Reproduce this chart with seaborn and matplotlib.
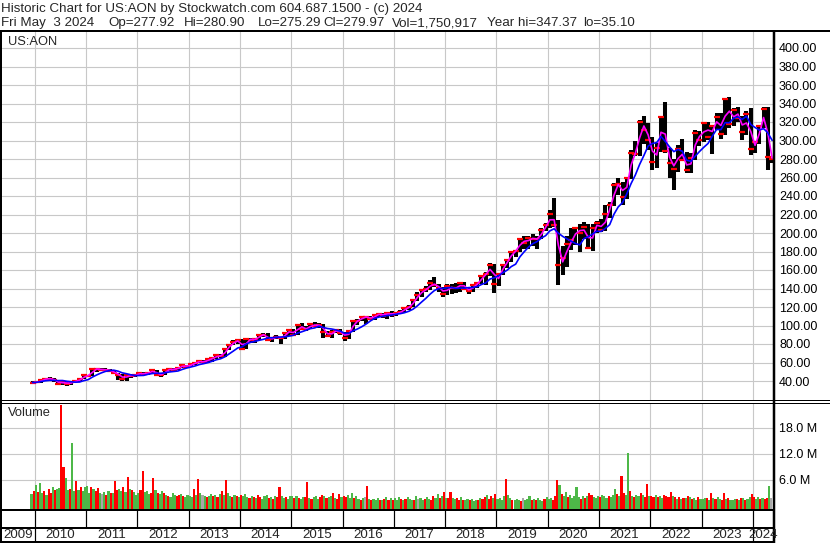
import matplotlib
matplotlib.use("Agg")
import matplotlib.pyplot as plt
from matplotlib.lines import Line2D
import seaborn as sns
import pandas as pd
import numpy as np

# monthly price bars, Dec 2009 .. May 2024
high = ([39.7] +
        [39.8, 41.3, 43.0, 44.5, 43.0, 41.5, 39.6, 39.8, 39.4, 40.6, 42.5, 46.3] +
        [46.6, 53.7, 53.6, 53.9, 53.6, 52.5, 52.1, 49.0, 48.0, 47.2, 47.5, 47.3] +
        [48.9, 49.6, 49.4, 53.0, 51.6, 47.5, 52.0, 53.5, 54.0, 55.2, 57.3, 57.5] +
        [58.4, 60.3, 61.9, 62.5, 64.6, 65.9, 69.2, 69.5, 75.3, 80.1, 84.0, 84.5] +
        [85.0, 86.6, 87.0, 86.0, 90.5, 91.5, 91.5, 87.2, 89.3, 87.6, 92.3, 96.0] +
        [96.5, 101.4, 102.6, 99.0, 102.5, 103.8, 103.0, 102.0, 94.5, 95.5, 96.5, 95.8] +
        [92.5, 94.5, 104.6, 106.5, 109.5, 110.0, 110.5, 111.6, 113.0, 113.3, 114.5, 115.5] +
        [115.0, 117.0, 119.5, 122.5, 128.5, 136.0, 139.0, 143.0, 149.0, 152.0, 144.5, 142.0] +
        [144.5, 145.0, 145.5, 147.0, 147.5, 141.0, 144.5, 147.0, 155.0, 157.5, 167.5, 166.0] +
        [157.0, 166.0, 172.0, 181.0, 182.0, 194.0, 197.0, 197.0, 198.5, 197.0, 205.0, 210.5] +
        [225.0, 238.2, 214.0, 185.5, 197.0, 205.0, 206.5, 209.5, 212.0, 210.0, 210.0, 213.5] +
        [215.0, 230.0, 233.0, 254.5, 260.0, 255.5, 260.0, 290.0, 300.0, 322.0, 326.0, 319.0] +
        [304.0, 297.0, 326.0, 341.9, 292.0, 280.0, 295.0, 302.0, 288.0, 286.0, 311.0, 310.0] +
        [320.5, 320.0, 316.0, 330.0, 330.0, 346.0, 347.4, 335.0, 336.0, 326.0, 332.0, 335.0] +
        [300.0, 317.0, 336.0, 336.0, 281.0])
low = ([37.5] +
       [37.6, 38.3, 40.6, 41.4, 38.5, 37.0, 35.5, 35.1, 36.2, 38.4, 39.4, 41.7] +
       [44.2, 45.3, 50.2, 51.0, 51.0, 49.5, 47.7, 41.0, 40.5, 40.2, 43.0, 44.5] +
       [46.4, 46.3, 46.5, 48.8, 46.0, 44.7, 46.3, 50.8, 51.5, 51.8, 54.0, 54.5] +
       [55.9, 57.5, 59.5, 58.3, 60.0, 61.0, 64.0, 65.2, 66.0, 73.0, 78.5, 79.5] +
       [74.5, 74.9, 81.5, 81.0, 84.5, 88.0, 83.8, 82.5, 85.5, 80.5, 85.5, 89.0] +
       [88.5, 89.5, 95.2, 94.0, 96.5, 98.0, 97.5, 86.0, 87.5, 87.0, 91.5, 90.0] +
       [82.9, 85.5, 93.5, 100.5, 104.5, 101.5, 106.0, 106.0, 109.0, 108.0, 106.5, 109.5] +
       [110.5, 112.0, 114.0, 116.5, 119.5, 126.5, 130.5, 136.5, 138.5, 142.0, 136.0, 131.0] +
       [133.0, 134.0, 135.5, 136.0, 138.0, 134.5, 136.0, 140.5, 145.0, 144.0, 154.0, 134.8] +
       [142.5, 155.0, 162.5, 168.5, 174.5, 179.5, 183.0, 182.5, 186.0, 183.0, 193.0, 202.0] +
       [205.0, 207.0, 143.9, 155.0, 163.0, 182.0, 187.0, 180.0, 193.0, 182.5, 181.0, 199.5] +
       [201.0, 202.5, 216.0, 229.0, 241.0, 230.5, 237.0, 258.0, 283.0, 283.0, 296.0, 290.0] +
       [268.0, 270.0, 288.0, 286.0, 260.0, 246.2, 265.5, 278.0, 265.0, 264.5, 279.0, 294.5] +
       [298.0, 300.5, 285.0, 311.0, 302.0, 306.0, 313.0, 316.0, 320.0, 301.0, 306.0, 284.8] +
       [287.0, 296.0, 314.0, 268.1, 275.3])
close = ([38.3] +
         [38.9, 41.0, 42.7, 42.5, 40.6, 37.1, 39.2, 36.4, 39.1, 39.8, 41.9, 46.0] +
         [45.6, 53.0, 53.0, 52.2, 52.1, 51.3, 48.5, 46.6, 42.0, 46.6, 45.0, 46.8] +
         [48.5, 47.5, 49.1, 51.5, 46.7, 46.8, 51.5, 53.0, 52.3, 54.5, 57.0, 55.6] +
         [58.0, 60.0, 61.5, 60.3, 63.7, 64.4, 67.9, 66.5, 74.4, 79.0, 82.7, 83.9] +
         [75.0, 85.7, 84.5, 84.9, 90.0, 90.1, 84.5, 86.6, 87.7, 86.0, 91.5, 94.8] +
         [90.0, 101.0, 96.1, 96.5, 101.3, 99.7, 100.7, 93.5, 88.6, 93.3, 94.8, 92.2] +
         [87.0, 94.0, 104.4, 105.1, 109.3, 109.2, 107.1, 111.4, 112.5, 110.8, 114.0, 111.5] +
         [113.0, 115.0, 118.7, 120.0, 127.5, 133.0, 138.0, 139.0, 146.0, 143.4, 140.6, 134.0] +
         [142.2, 140.2, 140.3, 145.8, 140.0, 137.2, 143.5, 145.6, 153.8, 156.1, 165.3, 145.4] +
         [156.2, 165.0, 170.7, 180.0, 180.6, 193.0, 189.0, 194.7, 193.6, 193.2, 203.6, 208.3] +
         [220.2, 208.5, 165.0, 172.6, 187.6, 192.6, 205.2, 200.0, 206.3, 184.0, 205.3, 211.3] +
         [203.0, 220.3, 230.1, 251.5, 253.3, 238.8, 259.9, 286.8, 285.8, 320.0, 311.4, 300.6] +
         [276.4, 292.2, 325.6, 288.3, 275.5, 269.7, 291.1, 279.3, 267.9, 281.5, 308.5, 300.1] +
         [318.4, 304.1, 315.3, 325.2, 307.3, 345.2, 318.2, 332.9, 324.2, 309.4, 328.5, 291.0] +
         [298.6, 316.0, 333.7, 281.8, 280.0])

# half-month volume (millions), Dec 2009 .. early May 2024
volume = ([2.8, 3.5] +
          [4.8, 3.2, 5.3, 2.9, 3.4, 2.6, 4.0, 3.0, 4.4, 3.8, 3.9, 4.2, 23.3, 9.0, 6.5, 3.8, 4.0, 14.6, 3.5, 5.8, 3.6, 4.4, 3.4, 4.5] +
          [4.6, 3.0, 4.5, 4.0, 3.5, 4.2, 3.0, 2.8, 3.2, 2.6, 3.4, 2.9, 3.0, 5.8, 3.6, 4.0, 3.5, 4.5, 3.3, 6.6, 4.0, 3.6, 3.2, 2.6] +
          [3.0, 3.8, 8.1, 3.2, 3.5, 2.7, 3.0, 6.5, 3.6, 3.0, 2.8, 3.4, 2.9, 2.5, 2.4, 2.0, 3.0, 2.6, 2.3, 2.5, 2.8, 2.2, 2.0, 2.6] +
          [2.4, 2.0, 3.9, 2.5, 6.3, 3.0, 2.6, 2.2, 2.0, 2.4, 2.8, 2.2, 2.5, 2.0, 2.7, 3.4, 2.5, 6.0, 3.0, 2.4, 2.0, 2.6, 2.2, 2.0] +
          [2.6, 2.3, 2.8, 2.0, 1.8, 2.4, 2.0, 1.9, 2.5, 2.0, 1.7, 2.2, 2.6, 1.9, 2.0, 1.7, 2.3, 2.0, 4.5, 2.4, 1.9, 2.1, 1.6, 2.2] +
          [2.2, 1.8, 2.4, 1.9, 1.6, 2.0, 2.1, 5.5, 1.8, 1.6, 2.0, 2.3, 1.7, 2.0, 2.6, 2.2, 1.8, 2.0, 2.4, 2.9, 1.9, 1.6, 2.8, 2.0] +
          [2.4, 2.0, 2.5, 1.8, 3.0, 1.9, 2.2, 1.6, 1.5, 1.8, 2.0, 4.6, 1.7, 1.4, 1.6, 1.3, 1.9, 1.5, 1.3, 1.7, 2.0, 1.5, 1.8, 1.4] +
          [1.8, 1.5, 2.1, 1.6, 1.4, 1.7, 2.0, 1.6, 1.5, 1.3, 2.2, 1.6, 1.9, 1.4, 1.6, 2.0, 1.7, 1.5, 2.3, 1.8, 2.7, 1.9, 2.4, 3.2] +
          [1.8, 1.9, 3.3, 1.9, 1.6, 1.8, 1.5, 2.0, 1.4, 1.3, 1.7, 1.4, 1.6, 1.2, 1.3, 1.5, 1.8, 1.6, 2.0, 2.6, 1.7, 2.4, 1.9, 2.8] +
          [1.6, 1.9, 1.5, 2.2, 6.3, 2.6, 1.8, 1.4, 1.3, 1.6, 1.5, 1.2, 1.8, 1.4, 1.7, 2.2, 1.4, 1.6, 1.3, 1.9, 1.5, 1.2, 1.7, 2.0] +
          [1.6, 1.8, 1.5, 2.4, 5.9, 4.8, 2.8, 2.3, 3.2, 2.0, 2.5, 1.8, 2.2, 4.5, 2.0, 1.7, 2.4, 1.9, 2.2, 2.9, 2.5, 2.0, 1.9, 2.3] +
          [2.0, 2.6, 2.4, 1.9, 2.2, 2.0, 2.5, 3.9, 2.8, 2.3, 7.0, 3.0, 2.6, 12.3, 3.5, 2.4, 2.0, 2.6, 2.3, 2.9, 2.5, 2.1, 5.0, 2.2] +
          [2.4, 2.1, 2.6, 2.0, 2.2, 1.8, 2.5, 2.3, 2.0, 3.3, 2.4, 2.0, 1.7, 2.1, 1.6, 1.9, 1.8, 2.2, 2.0, 1.6, 1.8, 1.5, 2.0, 1.7] +
          [1.6, 1.8, 1.9, 1.5, 3.0, 1.8, 1.6, 2.0, 1.7, 1.5, 3.0, 1.6, 1.8, 1.5, 1.4, 1.7, 1.6, 1.3, 1.8, 1.9, 1.5, 1.7, 2.0, 2.8] +
          [2.0, 1.7, 2.1, 1.6, 1.9, 1.7, 1.8, 4.7, 1.75])
# r = down, g = up, n = unchanged
volume_dir = ("gr" +
              "grggrgrrgrggrrggrggrgrgg" +
              "ggrgrrgngrgrgrrggrgrgrgg" +
              "grrgggrrgrggrgrgggrrgrgg" +
              "ggrgrgngrggrgrgrgrggrgrg" +
              "rgggrgrgrrgggrgrgrrggrgg" +
              "grgrggrrgrgggrrgrggrgrrg" +
              "rrgggrggrgnrgrgggrgrgrgr" +
              "gggrgrgggrgnggrggrrggrgr" +
              "grrggrrgrggrgggrgrrgrrgr" +
              "ggggrggrgggrngggrgrgggrg" +
              "ggrrrgrggrgggggrgrgrrggg" +
              "rgggrgggrgrrggrgrggrgrrg" +
              "rrgrggrrrrgrgrgrgrgrggrg" +
              "ggrgrgrggrrgrgggrgrgrggr" +
              "rggrgrrgn")

price_ticks = list(range(40, 401, 20))
volume_ticks = [6, 12, 18]
years = list(range(2009, 2025))
header_1 = "Historic Chart for US:AON by Stockwatch.com 604.687.1500 - (c) 2024"
header_2 = ["Fri May  3 2024", "Op=277.92", "Hi=280.90", "Lo=275.29", "Cl=279.97",
            "Vol=1,750,917", "Year hi=347.37", "lo=35.10"]

sns.set_style("white")
plt.rcParams["font.family"] = ["Liberation Sans", "DejaVu Sans"]

W, H = 830, 543
fig = plt.figure(figsize=(W / 100, H / 100), dpi=100)
fx = lambda px: px / W
fy = lambda py: 1 - py / H

X0, X1 = 2, 773.5            # plot area in pixels
Y2010, PX_YEAR = 34.7, 51.3  # pixel of 1 Jan 2010, pixels per year
xlim = (2010 - (Y2010 - X0) / PX_YEAR, 2010 + (X1 - Y2010) / PX_YEAR)

# price panel
P_TOP, P_BOT = 31, 400.3
ax_p = fig.add_axes([fx(X0), fy(P_BOT), fx(X1 - X0), (P_BOT - P_TOP) / H])
V_TOP, V_BOT = 402.7, 509.5
ax_v = fig.add_axes([fx(X0), fy(V_BOT), fx(X1 - X0), (V_BOT - V_TOP) / H])

n = len(close)
df = pd.DataFrame({"t": 2009 + 11 / 12 + (np.arange(n) + 0.5) / 12,
                   "high": high, "low": low, "close": close})
df["ma_fast"] = df["close"].rolling(2, min_periods=1).mean()
df["ma_slow"] = df["close"].rolling(6, min_periods=1).mean()

ax_p.vlines(df["t"], df["low"], df["high"], color="black", lw=2.9, zorder=2)
ax_p.plot(df["t"], df["close"], ls="none", marker="_", ms=4, mew=1.6, color="red", zorder=3)
sns.lineplot(data=df, x="t", y="ma_fast", color="#FF00FF", lw=1.2, ax=ax_p, zorder=4)
sns.lineplot(data=df, x="t", y="ma_slow", color="#0000FF", lw=1.2, ax=ax_p, zorder=5)

ppu = 333 / 360  # pixels per dollar
ax_p.set_ylim(40 - (P_BOT - 381) / ppu, 400 + (48 - P_TOP) / ppu)
ax_p.set_yticks(price_ticks)
ax_p.set_yticklabels([f"{v:.2f}" for v in price_ticks])

# volume panel
vol = pd.DataFrame({"t": 2009 + 11 / 12 + (np.arange(len(volume)) + 0.5) / 24,
                    "v": volume, "d": list(volume_dir)})
pal = {"r": "#FF0000", "g": "#4DB848", "n": "#A8A8A8"}
vpm = 26 / 6  # pixels per million
v_lo = -(V_BOT - 506) / vpm
v_hi = (506 - V_TOP) / vpm
ax_v.bar(vol["t"], vol["v"] - v_lo, bottom=v_lo, width=1 / 24,
         color=[pal[c] for c in vol["d"]], linewidth=0, zorder=2)
ax_v.set_ylim(v_lo, v_hi)
ax_v.set_yticks(volume_ticks)
ax_v.set_yticklabels([f"{v:.1f} M" for v in volume_ticks])

for ax in (ax_p, ax_v):
    ax.set_xlim(*xlim)
    ax.set_xticks(years[1:])
    ax.grid(True, color="#C8C8C8", lw=0.8, zorder=0)
    ax.set_axisbelow(True)
    ax.set_xlabel("")
    ax.set_ylabel("")
    ax.yaxis.tick_right()
    ax.tick_params(axis="x", length=0, labelbottom=False)
    ax.tick_params(axis="y", length=0, pad=4, labelsize=9, labelcolor="black")
    for s in ax.spines.values():
        s.set_visible(False)

fig.text(fx(8), fy(42), "US:AON", fontsize=9.3, va="center")
fig.text(fx(8), fy(413), "Volume", fontsize=9.3, va="center")

# header
fig.text(fx(1), fy(9.3), header_1, fontsize=9.6, va="center")
for s, px in zip(header_2, [1, 108, 184, 258, 323, 392, 487, 583]):
    fig.text(fx(px), fy(23.3), s, fontsize=9.6, va="center")


def line(x0, y0, x1, y1, lw):
    fig.add_artist(Line2D([fx(x0), fx(x1)], [fy(y0), fy(y1)], color="black",
                          lw=lw * 0.72, solid_capstyle="butt"))


line(0, 31, W, 31, 2)
line(0, 400.3, W, 400.3, 1)
line(0, 402.7, W, 402.7, 1)
line(0, 510, X1, 510, 2)
line(0, 527.5, X1, 527.5, 2)
line(0, 542, X1, 542, 2)
line(1, 30, 1, H, 2)
line(X1, 30, X1, H, 2.5)

# date strip
bounds = [Y2010 + (yr - 2010) * PX_YEAR for yr in years[1:]]
for bx in bounds:
    line(bx, 510, bx, 527.5, 1.2)
for bx in (bounds[0], bounds[-1]):
    line(bx, 527.5, bx, 542, 1.2)
label_x = [(X0 + bounds[0]) / 2] + [b + PX_YEAR / 2 for b in bounds[:-1]] + [(bounds[-1] + X1) / 2]
for yr, lx in zip(years, label_x):
    fig.text(fx(lx), fy(535), str(yr), fontsize=9.6, ha="center", va="center")

fig.savefig("out.png", dpi=100)
